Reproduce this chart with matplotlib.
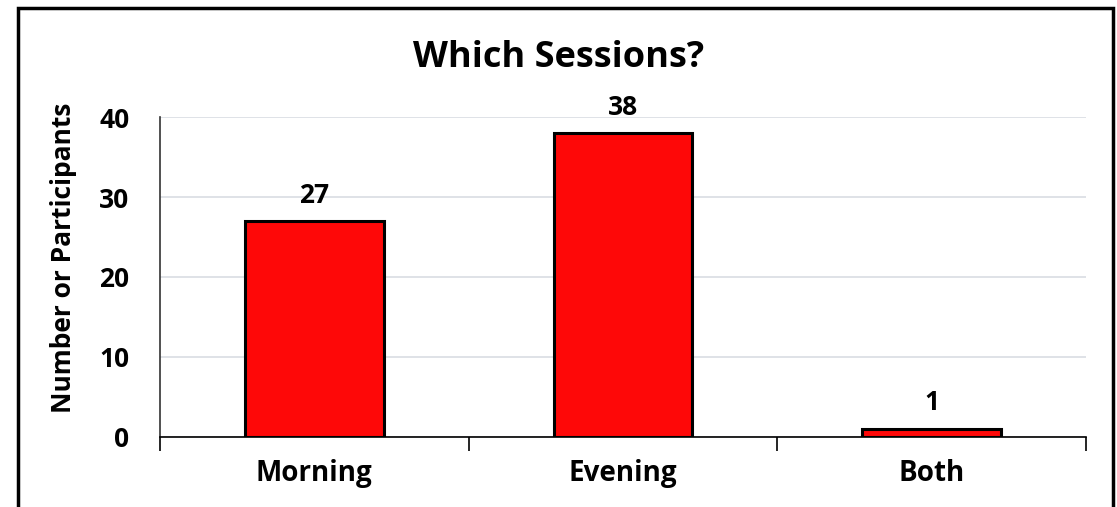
import matplotlib.pyplot as plt
from matplotlib.patches import Rectangle

categories = ['Morning', 'Evening', 'Both']
counts = [27, 38, 1]
yticks = [0, 10, 20, 30, 40]

plt.rcParams['font.family'] = ['Open Sans', 'DejaVu Sans']
plt.rcParams['font.weight'] = 'bold'

fig = plt.figure(figsize=(11.17, 5.07), dpi=100)
ax = fig.add_axes([0.1432, 0.1381, 0.8291, 0.6311])

x = list(range(len(categories)))
bars = ax.bar(x, counts, width=0.45, color='#fe0808', edgecolor='black', linewidth=2.2, zorder=3)

ax.set_xlim(-0.5, 2.5)
ax.set_ylim(0, 40)
ax.set_yticks(yticks)
ax.set_yticklabels([str(v) for v in yticks], fontsize=19, fontweight='bold')
ax.grid(axis='y', color='#d9dde3', linewidth=1.2, zorder=0)

# category ticks sit between the bars
ax.set_xticks([-0.5, 0.5, 1.5, 2.5])
ax.set_xticklabels([])
ax.set_xticks(x, minor=True)
ax.set_xticklabels(categories, minor=True, fontsize=20, fontweight='bold')
ax.tick_params(axis='x', which='major', length=10, width=1.2, direction='out', color='black')
ax.tick_params(axis='x', which='minor', length=0, pad=16)
ax.tick_params(axis='y', length=0, pad=22)

for s in ['top', 'right']:
    ax.spines[s].set_visible(False)
ax.spines['bottom'].set_linewidth(1.2)
ax.spines['left'].set_linewidth(1.2)
ax.spines['left'].set_color('#333333')

for xi, v in zip(x, counts):
    ax.annotate(str(v), (xi, v), xytext=(0, 9), textcoords='offset points',
                ha='center', va='bottom', fontsize=19, fontweight='bold')

ax.set_ylabel('Number or Participants', fontsize=19, fontweight='bold')
ax.yaxis.set_label_coords(-0.09, 0.56)
fig.text(0.5, 0.885, 'Which Sessions?', ha='center', va='center', fontsize=26, fontweight='bold')

# outer chart border
fig.patches.append(Rectangle((18 / 1117, -0.05), 1095 / 1117, 1.05 - 8 / 507,
                             transform=fig.transFigure, fill=False,
                             edgecolor='black', linewidth=2.5))

fig.savefig('out.png', dpi=100)
